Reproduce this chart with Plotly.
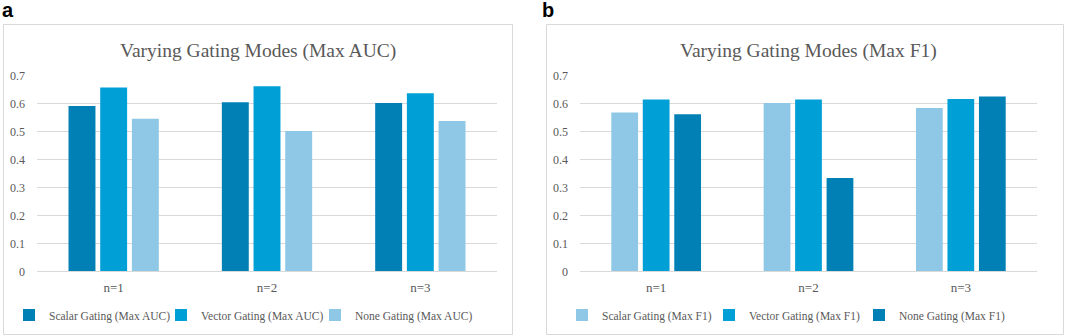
import plotly.graph_objects as go

W, H = 1065, 336

categories = ["n=1", "n=2", "n=3"]

# Panel a (Max AUC)
auc_series = ["Scalar Gating (Max AUC)", "Vector Gating (Max AUC)", "None Gating (Max AUC)"]
auc_scalar = [0.590, 0.604, 0.601]
auc_vector = [0.656, 0.661, 0.636]
auc_none = [0.545, 0.501, 0.537]

# Panel b (Max F1)
f1_series = ["Scalar Gating (Max F1)", "Vector Gating (Max F1)", "None Gating (Max F1)"]
f1_scalar = [0.567, 0.601, 0.583]
f1_vector = [0.614, 0.614, 0.615]
f1_none = [0.561, 0.333, 0.624]

y_ticks = [0, 0.1, 0.2, 0.3, 0.4, 0.5, 0.6, 0.7]
y_ticktext = ["0", "0.1", "0.2", "0.3", "0.4", "0.5", "0.6", "0.7"]

DARK = "#0080B4"
MID = "#00A0D6"
LIGHT = "#8EC8E6"
GRAY = "#595959"
GRID = "#D9D9D9"
SERIF = "Liberation Serif, DejaVu Serif, serif"


def px(v):
    return v / W


def py(v):
    return 1 - v / H


fig = go.Figure()

# legend text start positions in the reference (pixels)
auc_text_x = [47, 199, 353]
f1_text_x = [600, 747, 897]

legends = {}
k = 0
for name, vals, col, tx in zip(auc_series, [auc_scalar, auc_vector, auc_none], [DARK, MID, LIGHT], auc_text_x):
    k += 1
    lname = "legend" if k == 1 else f"legend{k}"
    fig.add_trace(go.Bar(x=categories, y=vals, name=name, marker=dict(color=col, line=dict(width=0)),
                         xaxis="x", yaxis="y", legend=lname))
    legends[lname] = tx
for name, vals, col, tx in zip(f1_series, [f1_scalar, f1_vector, f1_none], [LIGHT, MID, DARK], f1_text_x):
    k += 1
    lname = f"legend{k}"
    fig.add_trace(go.Bar(x=categories, y=vals, name=name, marker=dict(color=col, line=dict(width=0)),
                         xaxis="x2", yaxis="y2", legend=lname))
    legends[lname] = tx

ydom = [py(271.3), py(75.3)]

axis_y = dict(range=[0, 0.7], tickvals=y_ticks, ticktext=y_ticktext, showgrid=True, gridcolor=GRID,
              gridwidth=1, zeroline=False, showline=False, ticks="",
              tickfont=dict(family=SERIF, size=12, color=GRAY),
              domain=ydom, fixedrange=True, ticklabelstandoff=11)
axis_x = dict(showgrid=False, zeroline=False, showline=True, linecolor=GRID, linewidth=1, ticks="",
              tickfont=dict(family=SERIF, size=13, color=GRAY), fixedrange=True, ticklabelstandoff=4)

layout_legends = {}
for lname, tx in legends.items():
    layout_legends[lname] = dict(
        orientation="h", x=px(tx + 2 - 40), xanchor="left", y=py(315), yanchor="middle",
        font=dict(family=SERIF, size=11.5, color=GRAY), itemwidth=30,
        bgcolor="rgba(0,0,0,0)", borderwidth=0)

fig.update_layout(
    width=W, height=H,
    margin=dict(l=0, r=0, t=0, b=0, autoexpand=False),
    paper_bgcolor="white", plot_bgcolor="white",
    barmode="group", bargap=0.38, bargroupgap=0.15,
    xaxis=dict(axis_x, domain=[px(37), px(497)], anchor="y"),
    yaxis=dict(axis_y, anchor="x"),
    xaxis2=dict(axis_x, domain=[px(580), px(1037)], anchor="y2"),
    yaxis2=dict(axis_y, anchor="x2"),
    showlegend=True,
    shapes=[
        dict(type="rect", xref="paper", yref="paper", x0=px(3.5), x1=px(512.5), y0=py(334.5), y1=py(24.5),
             line=dict(color=GRID, width=1), fillcolor="rgba(0,0,0,0)", layer="below"),
        dict(type="rect", xref="paper", yref="paper", x0=px(546.5), x1=px(1063.5), y0=py(334.5), y1=py(24.5),
             line=dict(color=GRID, width=1), fillcolor="rgba(0,0,0,0)", layer="below"),
    ],
    annotations=[
        dict(text="<b>a</b>", x=px(0), y=py(10), xref="paper", yref="paper", xanchor="left", yanchor="middle",
             showarrow=False, font=dict(family="Liberation Sans, Arial, sans-serif", size=20, color="black")),
        dict(text="<b>b</b>", x=px(540), y=py(10), xref="paper", yref="paper", xanchor="left", yanchor="middle",
             showarrow=False, font=dict(family="Liberation Sans, Arial, sans-serif", size=20, color="black")),
        dict(text="Varying Gating Modes (Max AUC)", x=px(258), y=py(51), xref="paper", yref="paper",
             xanchor="center", yanchor="middle", showarrow=False,
             font=dict(family=SERIF, size=19.5, color=GRAY)),
        dict(text="Varying Gating Modes (Max F1)", x=px(808), y=py(51), xref="paper", yref="paper",
             xanchor="center", yanchor="middle", showarrow=False,
             font=dict(family=SERIF, size=19.5, color=GRAY)),
    ],
    **layout_legends,
)

fig.write_html("out.html", config={"displayModeBar": False},
               post_script="document.body.style.margin='0';document.body.style.overflow='hidden';")
